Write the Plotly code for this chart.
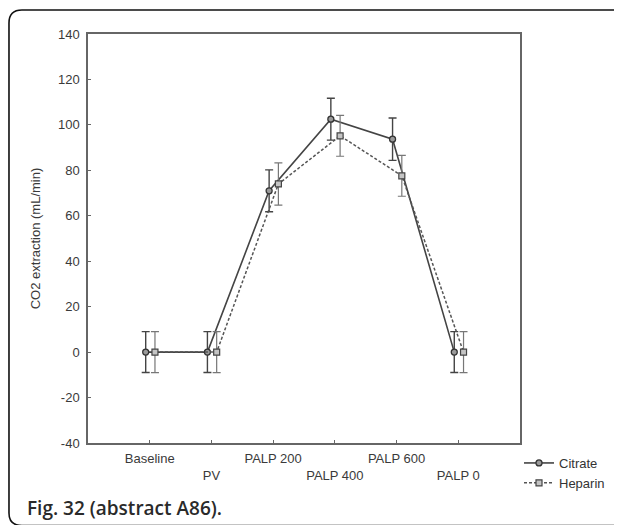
import plotly.graph_objects as go

categories = ["Baseline", "PV", "PALP 200", "PALP 400", "PALP 600", "PALP 0"]
tick_labels = ["Baseline", "<br>PV", "PALP 200", "<br>PALP 400", "PALP 600", "<br>PALP 0"]
citrate = [0, 0, 71, 102.5, 93.7, 0]
citrate_err = [9, 9, 9.2, 9.2, 9.3, 9]
heparin = [0, 0, 74, 95.2, 77.6, 0]
heparin_err = [9, 9, 9.3, 9, 9, 9]
y_ticks = [-40, -20, 0, 20, 40, 60, 80, 100, 120, 140]
y_tick_labels = ["-40", "-20", "0", "20", "40", "60", "80", "100", "120", "140"]

# the page puts the figure 8 px in from the top-left corner
OFF = 8
W, H = 622 - OFF, 525 - OFF
L, R, T, B = 88 - OFF, 520 - OFF, 34 - OFF, 443 - OFF
pw, ph = R - L, B - T

def px(x):
    return round((x - OFF - L) / pw, 4)

def py(y):
    return round((B - (y - OFF)) / ph, 4)

idx = list(range(len(categories)))
fig = go.Figure()
fig.add_trace(go.Scatter(
    x=[i - 0.065 for i in idx], y=citrate, name="Citrate", mode="lines+markers",
    line=dict(color="#444444", width=1.6),
    marker=dict(symbol="circle", size=6, color="#9a9a9a", line=dict(color="#333333", width=1.3)),
    error_y=dict(type="data", array=citrate_err, visible=True, color="#444444", thickness=1.4, width=4),
))
fig.add_trace(go.Scatter(
    x=[i + 0.085 for i in idx], y=heparin, name="Heparin", mode="lines+markers",
    line=dict(color="#555555", width=1.5, dash="3px,2px"),
    marker=dict(symbol="square", size=6, color="#c4c4c4", line=dict(color="#444444", width=1.2)),
    error_y=dict(type="data", array=heparin_err, visible=True, color="#777777", thickness=1.2, width=4),
))

path = (f"M {px(640)},{py(10)} L {px(22)},{py(10)} Q {px(9)},{py(10)} {px(9)},{py(23)} "
        f"L {px(9)},{py(513)} Q {px(9)},{py(525.5)} {px(22)},{py(525.5)} L {px(640)},{py(525.5)}")
fig.add_shape(type="path", xref="paper", yref="paper", path=path,
              line=dict(color="#111111", width=1.6))

fig.add_annotation(text="Fig. 32 (abstract A86).", xref="paper", yref="paper",
                   x=px(25), y=py(508), xanchor="left", yanchor="middle", showarrow=False,
                   font=dict(family="Open Sans", size=19, color="#2a2a2a", weight=600))

fig.update_layout(
    width=W, height=H,
    margin=dict(l=L, r=W - R, t=T, b=H - B),
    paper_bgcolor="white", plot_bgcolor="white",
    font=dict(family="Liberation Sans, Arial", size=13, color="#444444"),
    showlegend=True,
    legend=dict(x=px(519), y=py(448), xanchor="left", yanchor="top",
                font=dict(size=13, color="#333333"), itemwidth=30,
                tracegroupgap=0, bgcolor="rgba(0,0,0,0)"),
    xaxis=dict(range=[-1, 6], tickmode="array", tickvals=idx, ticktext=tick_labels,
               ticks="inside", ticklen=3, tickcolor="#666666", showgrid=False, zeroline=False,
               showline=True, linecolor="#666666", linewidth=1.5, mirror=True,
               ticklabelstandoff=3,
               tickfont=dict(size=13, color="#3a3a3a")),
    yaxis=dict(range=[-40, 140], tickmode="array", tickvals=y_ticks, ticktext=y_tick_labels,
               ticks="inside", ticklen=3, tickcolor="#666666", showgrid=False, zeroline=False,
               showline=True, linecolor="#666666", linewidth=1.5, mirror=True,
               ticklabelstandoff=4,
               tickfont=dict(size=13, color="#3a3a3a"),
               title=dict(text="CO2 extraction (mL/min)", font=dict(size=13, color="#3a3a3a"), standoff=14)),
)

fig.write_html("out.html")
